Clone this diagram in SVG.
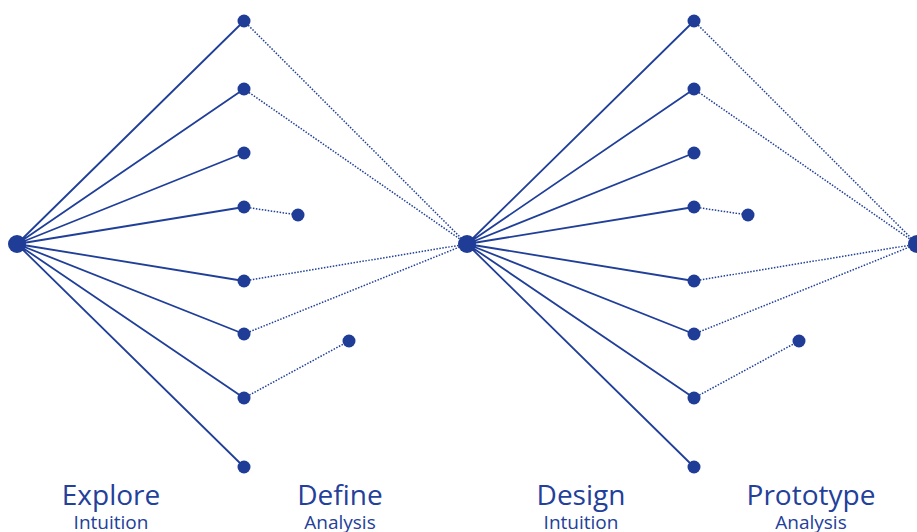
<svg xmlns="http://www.w3.org/2000/svg" width="917" height="532" viewBox="0 0 917 532">
<style>
.s{stroke:#203f99;stroke-width:1.8;fill:none}
.d{stroke:#203f99;stroke-width:1.5;fill:none;stroke-dasharray:1.5 1.5}
.n{fill:#1f3c96}
.t{font-family:"Open Sans","Noto Sans",sans-serif;fill:#23409a;text-anchor:middle}
.big{font-size:28px}
.sm{font-size:19px}
</style>
<rect width="917" height="532" fill="#fff"/>
<g id="connectors">
<path class="s" d="M17 244L244 21M17 244L244 89M17 244L244 153M17 244L244 207M17 244L244 281M17 244L244 334M17 244L244 398M17 244L244 467"/>
<path class="d" d="M244 21L467 244M244 89L467 244M244 207L298 215M244 281L467 244M244 334L467 244M244 398L349 341"/>
<path class="s" d="M467 244L694 21M467 244L694 89M467 244L694 153M467 244L694 207M467 244L694 281M467 244L694 334M467 244L694 398M467 244L694 467"/>
<path class="d" d="M694 21L917 244M694 89L917 244M694 207L748 215M694 281L917 244M694 334L917 244M694 398L799 341"/>
</g>
<g id="hub1"><circle class="n" cx="17" cy="244" r="9"/></g>
<g id="hub2"><circle class="n" cx="467" cy="244" r="9"/></g>
<g id="hub3"><circle class="n" cx="917" cy="244" r="9"/></g>
<g id="nodes1">
<circle class="n" cx="244" cy="21" r="6.5"/>
<circle class="n" cx="244" cy="89" r="6.5"/>
<circle class="n" cx="244" cy="153" r="6.5"/>
<circle class="n" cx="244" cy="207" r="6.5"/>
<circle class="n" cx="244" cy="281" r="6.5"/>
<circle class="n" cx="244" cy="334" r="6.5"/>
<circle class="n" cx="244" cy="398" r="6.5"/>
<circle class="n" cx="244" cy="467" r="6.5"/>
<circle class="n" cx="298" cy="215" r="6.5"/>
<circle class="n" cx="349" cy="341" r="6.5"/>
</g>
<g id="nodes2">
<circle class="n" cx="694" cy="21" r="6.5"/>
<circle class="n" cx="694" cy="89" r="6.5"/>
<circle class="n" cx="694" cy="153" r="6.5"/>
<circle class="n" cx="694" cy="207" r="6.5"/>
<circle class="n" cx="694" cy="281" r="6.5"/>
<circle class="n" cx="694" cy="334" r="6.5"/>
<circle class="n" cx="694" cy="398" r="6.5"/>
<circle class="n" cx="694" cy="467" r="6.5"/>
<circle class="n" cx="748" cy="215" r="6.5"/>
<circle class="n" cx="799" cy="341" r="6.5"/>
</g>
<g id="labels">
<text class="t big" x="111" y="505">Explore</text>
<text class="t sm" x="111" y="529">Intuition</text>
<text class="t big" x="340" y="505">Define</text>
<text class="t sm" x="340" y="529">Analysis</text>
<text class="t big" x="581" y="505">Design</text>
<text class="t sm" x="581" y="529">Intuition</text>
<text class="t big" x="811" y="505">Prototype</text>
<text class="t sm" x="811" y="529">Analysis</text>
</g>
</svg>
